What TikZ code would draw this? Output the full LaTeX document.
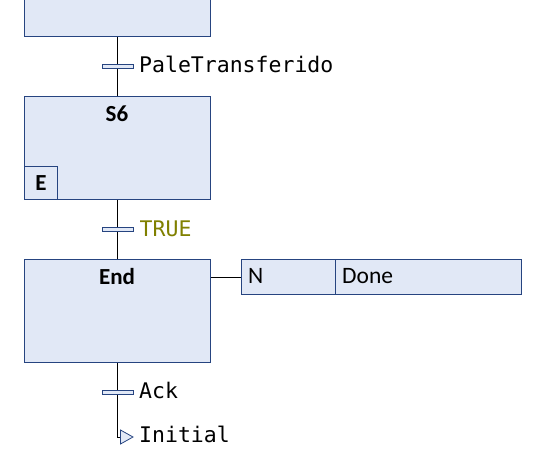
\documentclass[tikz,border=0pt]{standalone}
\usepackage{fontspec}
\setmainfont{Carlito}
\newfontfamily\monofnt{DejaVu Sans Mono}
\definecolor{boxfill}{RGB}{225,232,246}
\definecolor{boxline}{RGB}{38,68,128}
\definecolor{olivetxt}{RGB}{128,128,0}
\tikzset{
  stepbox/.style={draw=boxline, fill=boxfill, line width=1pt, minimum width=186pt, minimum height=103pt, anchor=north west, inner sep=0pt},
  smallbox/.style={draw=boxline, fill=boxfill, line width=1pt, anchor=north west, inner sep=0pt},
  trbar/.style={draw=boxline, fill=boxfill, line width=1pt, minimum width=31pt, minimum height=4pt, inner sep=0pt},
  conn/.style={draw=black, line width=1pt},
  steptxt/.style={font=\fontsize{23}{26}\selectfont\bfseries, anchor=base, inner sep=0pt},
  acttxt/.style={font=\fontsize{23.5}{26}\selectfont, anchor=base west, inner sep=0pt},
  condtxt/.style={font=\monofnt\fontsize{21.5}{24}\selectfont, anchor=base west, inner sep=0pt}
}
\begin{document}
\begin{tikzpicture}[x=1pt,y=-1pt]
\useasboundingbox (0,0) rectangle (557,464);
% steps
\node[stepbox, minimum height=56pt] (top) at (24,-20) {};
\node[stepbox] (s6) at (24,96) {};
\node[smallbox, minimum width=33pt, minimum height=33pt] (e) at (24,166) {};
\node[stepbox] (end) at (24,259) {};
% labels of steps
\node[steptxt] (s6name) at (117,121.7) {S6};
\node[font=\fontsize{23}{26}\selectfont\bfseries, inner sep=0pt] (etxt) at (e.center) {E};
\node[steptxt] (endname) at (117,284.3) {End};
% action
\node[smallbox, minimum width=93.5pt, minimum height=35pt] (actn) at (241,259) {};
\node[smallbox, minimum width=186.5pt, minimum height=35pt] (actd) at (334.5,259) {};
\node[acttxt] (ntxt) at (248,283.5) {N};
\node[acttxt] (donetxt) at (342,283.5) {Done};
\draw[conn] (actn.west -| end.east) -- (actn.west);
% transitions
\node[trbar] (t1) at (117.5,66) {};
\node[trbar] (t2) at (117.5,229.3) {};
\node[trbar] (t3) at (117.5,392.2) {};
\draw[conn] (top.south -| t1) -- (t1.north);
\draw[conn] (t1.south) -- (s6.north -| t1);
\draw[conn] (s6.south -| t2) -- (t2.north);
\draw[conn] (t2.south) -- (end.north -| t2);
\draw[conn] (end.south -| t3) -- (t3.north);
\node[condtxt] (c1) at (139,72.2) {PaleTransferido};
\node[condtxt, text=olivetxt] (c2) at (139.5,236.2) {TRUE};
\node[condtxt] (c3) at (139,398.8) {Ack};
% jump
\coordinate (triw) at (120.5,437);
\draw[conn] (t3.south) |- (triw);
\draw[draw=boxline, fill=boxfill, line width=0.8pt, line join=miter] (120.5,430) -- (133,437) -- (120.5,444) -- cycle;
\node[condtxt] (c4) at (139,442.8) {Initial};
\end{tikzpicture}
\end{document}
